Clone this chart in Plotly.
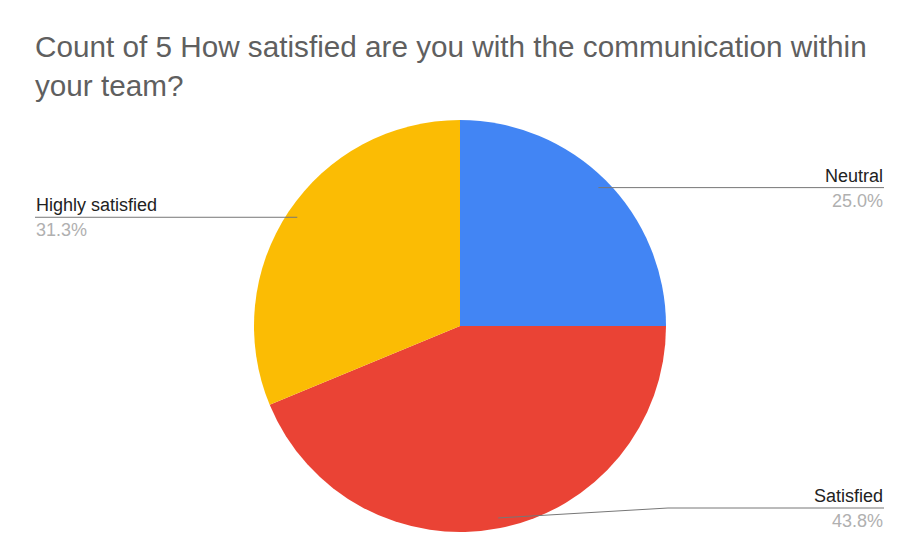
import math
from decimal import Decimal, ROUND_HALF_UP
import plotly.graph_objects as go

labels = ["Neutral", "Satisfied", "Highly satisfied"]
counts = [4, 7, 5]
colors = ["#4285F4", "#EA4335", "#FBBC04"]
title_text = "Count of 5 How satisfied are you with the communication within<br>your team?"

W, H = 903, 538
cx, cy, R = 460, 326, 206

fig = go.Figure(go.Pie(
    labels=labels, values=counts, sort=False, direction="clockwise", rotation=0,
    marker=dict(colors=colors, line=dict(width=0)), textinfo="none", hoverinfo="label+percent",
    domain=dict(x=[(cx - R) / W, (cx + R) / W], y=[1 - (cy + R) / H, 1 - (cy - R) / H]),
    showlegend=False,
))

def px(x):
    return x / W

def py(y):
    return 1 - y / H

total = sum(counts)
cum = 0
shapes, annotations = [], []
line_col = "#777777"
lab_size = 18
for lab, c in zip(labels, counts):
    mid = (cum + c / 2) / total * 2 * math.pi
    cum += c
    ax = cx + 0.95 * R * math.sin(mid)
    ay = cy - 0.95 * R * math.cos(mid)
    pct = f"{Decimal(c * 100 / total).quantize(Decimal('0.1'), rounding=ROUND_HALF_UP)}%"
    if math.sin(mid) >= 0:
        if math.cos(mid) < -0.5:
            ex, ey = 668, 508
            shapes.append(dict(type="line", xref="paper", yref="paper", x0=px(ax), y0=py(ay), x1=px(ex), y1=py(ey),
                               line=dict(color=line_col, width=1)))
        else:
            ex, ey = ax, ay
        endx = 884
        shapes.append(dict(type="line", xref="paper", yref="paper", x0=px(ex), y0=py(ey), x1=px(endx), y1=py(ey),
                           line=dict(color=line_col, width=1)))
        xa = "right"
        tx = endx
    else:
        ey = ay
        endx = 35
        shapes.append(dict(type="line", xref="paper", yref="paper", x0=px(ax), y0=py(ey), x1=px(endx), y1=py(ey),
                           line=dict(color=line_col, width=1)))
        xa = "left"
        tx = endx
    annotations.append(dict(xref="paper", yref="paper", x=px(tx), y=py(ey - 1), xanchor=xa, yanchor="bottom",
                            text=lab, showarrow=False, font=dict(size=lab_size, color="#222222"), borderpad=0))
    annotations.append(dict(xref="paper", yref="paper", x=px(tx), y=py(ey + 2), xanchor=xa, yanchor="top",
                            text=pct, showarrow=False, font=dict(size=lab_size, color="#b0b0b0"), borderpad=0))

annotations.append(dict(xref="paper", yref="paper", x=px(33), y=py(28), xanchor="left", yanchor="top",
                        text=title_text, showarrow=False, align="left",
                        font=dict(size=29.7, color="#5f5f5f", family="Liberation Sans, Arial, sans-serif")))

fig.update_layout(
    width=W, height=H, margin=dict(l=0, r=0, t=0, b=0),
    paper_bgcolor="white", plot_bgcolor="white",
    font=dict(family="Liberation Sans, Arial, sans-serif"),
    shapes=shapes, annotations=annotations,
)
fig.write_html("out.html")
